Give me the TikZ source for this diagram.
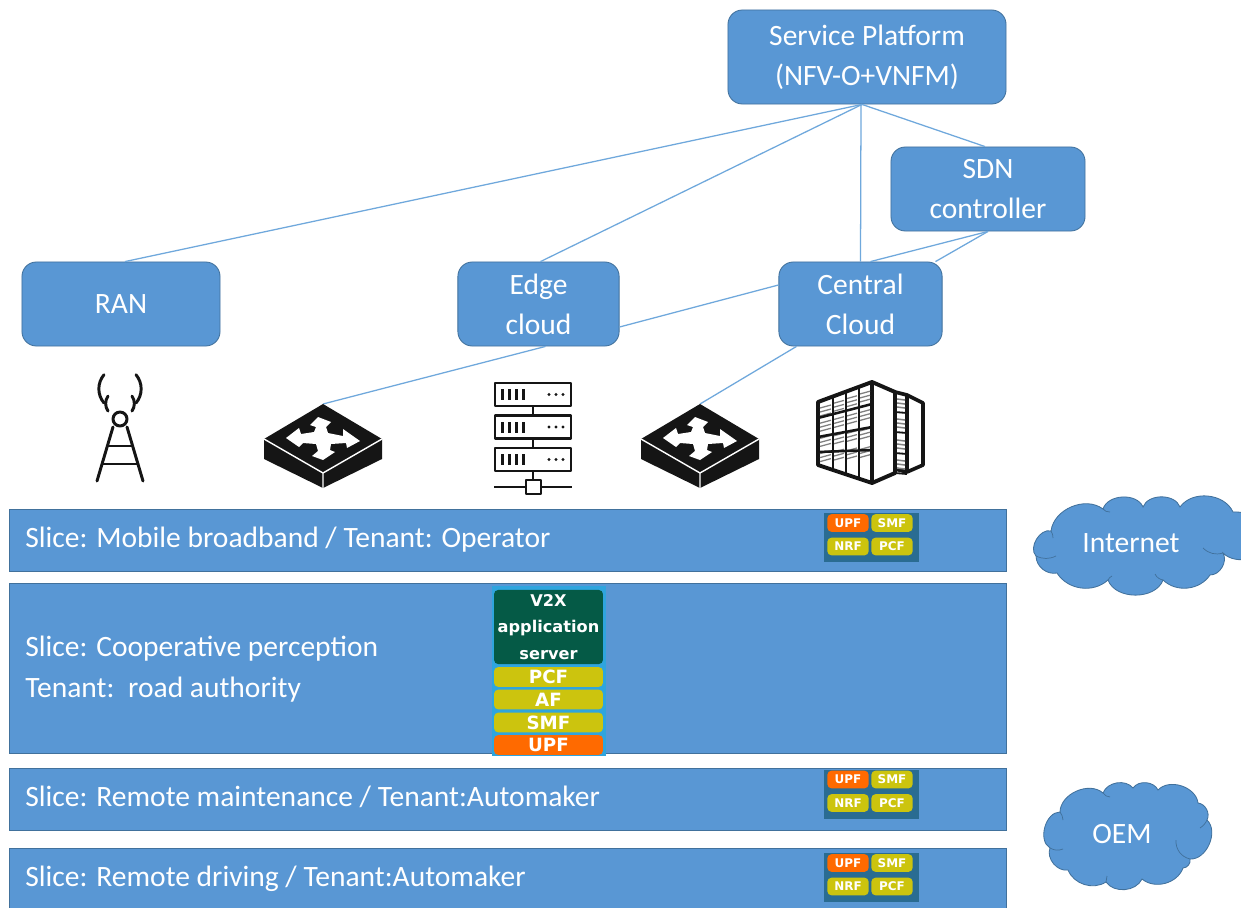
\documentclass[tikz,border=0pt]{standalone}
\usepackage{fontspec}
\setmainfont{Carlito}
\newfontfamily\boldlab{DejaVu Sans}[Scale=1]
\usetikzlibrary{calc}
\definecolor{blu}{HTML}{5997D4}
\definecolor{bluedge}{HTML}{41719C}
\definecolor{linkc}{HTML}{6FA8DC}
\definecolor{teal}{HTML}{2A6C92}
\definecolor{upfc}{HTML}{FF6A00}
\definecolor{olive}{HTML}{CCC40E}
\definecolor{gren}{HTML}{055A46}
\definecolor{sky}{HTML}{2FA5DE}
\definecolor{ink}{HTML}{151515}
\tikzset{
  maintext/.style={text=white,font=\fontsize{21}{28.5}\selectfont,align=center,inner sep=0pt},
  roundbox/.style={draw=bluedge,fill=blu,line width=0.6pt,rounded corners=0.36cm,maintext},
  bar/.style={draw=bluedge,fill=blu,line width=0.6pt,inner sep=0pt},
  barlabel/.style={text=white,font=\fontsize{21}{28.5}\selectfont,anchor=west,inner sep=0pt,align=left},
  link/.style={draw=linkc,line width=0.9pt},
  cloudshape/.style={draw=bluedge,fill=blu,line width=0.6pt},
  crease/.style={draw=bluedge,line width=0.5pt},
  mini/.style={rounded corners=0.1cm,text=white,inner sep=0pt,minimum width=1.03cm,minimum height=0.44cm,font=\boldlab\bfseries\fontsize{8.5}{8.5}\selectfont},
  stackitem/.style={rounded corners=0.1cm,text=white,inner sep=0pt,minimum width=2.72cm,minimum height=0.49cm,font=\boldlab\bfseries\fontsize{13}{13}\selectfont},
  icon/.style={draw=ink,line width=2.1pt,line join=round},
  thinicon/.style={draw=ink,line width=1.1pt},
  switchicon/.pic={
    \fill[ink] (0,-35) -- (59,0) -- (59,20) -- (0,49) -- (-59,20) -- (-59,0) -- cycle;
    \draw[white,line width=1pt] (-59,0) -- (0,34) -- (59,0) (0,34) -- (0,49);
    \fill[white] (-37,-1) -- (-24,-11) -- (-22,-5) -- (-9,-7) -- (-7,-12) -- (-13,-14) -- (-5,-22) -- (8,-17) -- (3,-12) -- (5,-6) -- (20,-3) -- (20,-10) -- (37,2) -- (24,9) -- (23,4) -- (8,5) -- (7,11) -- (12,13) -- (0,21) -- (-11,17) -- (-5,12) -- (-7,5) -- (-20,4) -- (-24,8) -- cycle;
  },
  minibadge/.pic={
    \fill[teal] (-47.5,-24.5) rectangle (47.5,24.5);
    \node[mini,fill=upfc] at (-23,-14.5) {UPF};
    \node[mini,fill=olive] at (21,-14.5) {SMF};
    \node[mini,fill=olive] at (-23,9) {NRF};
    \node[mini,fill=olive] at (21,9) {PCF};
  }
}
\begin{document}
\begin{tikzpicture}[x=0.025cm,y=-0.025cm]
\clip (0,0) rectangle (1241,907);
\fill[white] (0,0) rectangle (1241,907);

% named free ends
\coordinate (swa) at (323,404);
\coordinate (swb) at (700,404);

% boxes
\node[roundbox,minimum width=6.95cm,minimum height=2.35cm] (svc) at (867,57) {Service Platform\\(NFV-O+VNFM)};
\node[roundbox,minimum width=4.85cm,minimum height=2.1cm] (sdn) at (988,189) {SDN\\controller};
\node[roundbox,minimum width=4.95cm,minimum height=2.1cm] (ran) at (121,304) {RAN};
\node[roundbox,minimum width=4.03cm,minimum height=2.1cm] (edge) at (538.5,304) {Edge\\cloud};
\node[roundbox,minimum width=4.08cm,minimum height=2.1cm] (central) at (860.5,304) {Central\\Cloud};

% connectors
\begin{scope}[on background layer/.style={}]
\draw[link] (svc.south)+(-5,0) -- ($(ran.north)+(4,0)$);
\draw[link] (svc.south)+(-5,0) -- ($(edge.north)+(2,0)$);
\draw[link] (svc.south)+(-6,0) -- (central.north);
\draw[link] (svc.south)+(-5,0) -- ($(sdn.north)+(-3,0)$);
\draw[link] (sdn.south) -- ($(central.north)+(10,0)$);
\draw[link] (sdn.south) -- ($(central.north)+(75,0)$);
\draw[link] ($(edge.east)+(0,23)$) -- ($(central.west)+(0,-19)$);
\draw[link] ($(edge.south)+(7,0)$) -- (swa);
\draw[link] ($(central.south)+(-64,0)$) -- (swb);
\end{scope}

% icons: tower
\begin{scope}[line cap=round]
\draw[icon] (120,419) circle (7);
\draw[icon] (97,481) -- (113,427) (143,481) -- (127,427);
\draw[icon] (108,446) -- (132,446) (103,464) -- (137,464);
\draw[icon] (108,411) arc (145:215:13);
\draw[icon] (132,411) arc (35:-35:13);
\draw[icon] (104,403) arc (140:220:22);
\draw[icon] (136,403) arc (40:-40:22);
\end{scope}

% icons: switches
\pic at (323,439) {switchicon};
\pic at (700,439) {switchicon};

% icons: server stack
\foreach \yy in {383,415.5,448}{
  \draw[icon,fill=white] (495,\yy) rectangle (571,\yy+23);
  \foreach \xx in {502,509,516,523}{\fill[ink] (\xx-1.5,\yy+6) rectangle (\xx+1.5,\yy+17);}
  \foreach \xx in {549,556,563}{\fill[ink] (\xx,\yy+11.5) circle (1.6);}
}
\draw[icon] (533,406) -- (533,415.5) (533,438.5) -- (533,448) (533,471) -- (533,480);
\draw[icon] (494,487) -- (526,487) (541,487) -- (572,487);
\draw[icon,fill=white] (526,480) rectangle (541,494);

% icons: data centre
\draw[icon,line width=2.6pt,fill=white] (895,392) -- (907,395) -- (923,403) -- (923,465) -- (907,472) -- (895,469) -- cycle;
\draw[icon,line width=2.2pt] (907,395) -- (907,472);
\foreach \yy in {397,417,438,458}{
  \draw[thinicon,gray] (897,\yy+2) -- (905,\yy+3) (897,\yy+6) -- (905,\yy+7) (897,\yy+10) -- (905,\yy+11);
  \draw[ink,line width=1.3pt] (895,\yy+15) -- (907,\yy+16);
}
\draw[icon,line width=2.8pt,fill=white] (818,402) -- (872,382) -- (895,392) -- (895,473) -- (872,483) -- (818,465) -- cycle;
\draw[icon,line width=2.2pt] (872,382) -- (872,483);
\foreach \cc in {0,1,2,3}{
  \foreach \rr in {0,1,2,3}{
    \pgfmathsetmacro{\xa}{820+\cc*13}
    \pgfmathsetmacro{\xb}{\xa+11}
    \pgfmathsetmacro{\ya}{405-\cc*4.6+\rr*(15.2+\cc*1.1)}
    \foreach \kk in {3,7,11}{
      \draw[gray,line width=0.9pt] (\xa,\ya+\kk) -- (\xb,\ya+\kk-3);
    }
  }
}
\draw[ink,line width=1.3pt] (833,397) -- (833,470) (846,392) -- (846,475) (859,387) -- (859,479);
\draw[ink,line width=1.8pt] (818,418) -- (872,404) (818,437) -- (872,427) (818,452) -- (872,450);

% slices
\node[bar,minimum width=24.9cm,minimum height=1.55cm] (s1) at (508,540) {};
\node[bar,minimum width=24.9cm,minimum height=4.23cm] (s2) at (508,668.5) {};
\node[bar,minimum width=24.9cm,minimum height=1.55cm] (s3) at (508,799) {};
\node[bar,minimum width=24.9cm,minimum height=1.6cm] (s4) at (508,880) {};
\node[barlabel] (l1) at (25,540) {Slice: Mobile broadband / Tenant: Operator};
\node[barlabel] (l2) at (25,669) {Slice: Cooperative perception\\[1pt]Tenant:\, road authority};
\node[barlabel] (l3) at (25,797) {Slice: Remote maintenance / Tenant:Automaker};
\node[barlabel] (l4) at (25,879) {Slice: Remote driving / Tenant:Automaker};

% small function badges
\pic at (871,537.5) {minibadge};
\pic at (871,794) {minibadge};
\pic at (871,877.5) {minibadge};

% V2X stack
\fill[sky] (492,586) rectangle (606,756);
\node[stackitem,fill=gren,minimum height=1.85cm,align=center,font=\boldlab\bfseries\fontsize{11.5}{19}\selectfont] (v2x) at (548.5,627) {V2X\\application\\server};
\node[stackitem,fill=olive] (spcf) at (548.5,677) {PCF};
\node[stackitem,fill=olive] (saf) at (548.5,699.5) {AF};
\node[stackitem,fill=olive] (ssmf) at (548.5,722.5) {SMF};
\node[stackitem,fill=upfc] (supf) at (548.5,745) {UPF};

% clouds
\draw[cloudshape] (1036,556) to[bend left=75] (1051,531) to[bend left=60] (1103,509) to[bend left=70] (1143,507) to[bend left=70] (1180,507) to[bend left=60] (1233,512) to[bend left=40] (1270,540) to[bend left=60] (1223,553) to[bend left=60] (1210,575) to[bend left=50] (1163,580) to[bend left=70] (1108,580) to[bend left=50] (1057,573) to[bend left=50] cycle;
\draw[crease] (1051,531) to[bend left=15] (1053,538) (1036,556) to[bend right=25] (1056,556) (1103,509) to[bend right=25] (1110,512) (1223,553) to[bend left=30] (1203,548) (1163,580) to[bend left=25] (1155,574) (1108,580) to[bend left=20] (1112,576);
\node[maintext] (inet) at (1131,543) {Internet};

\draw[cloudshape] (1050,848) to[bend left=75] (1060,812) to[bend left=65] (1103,793) to[bend left=60] (1133,788) to[bend left=60] (1158,790) to[bend left=65] (1198,803) to[bend left=55] (1207,820) to[bend left=70] (1190,859) to[bend left=50] (1183,868) to[bend left=55] (1142,879) to[bend left=60] (1106,882) to[bend left=50] (1068,870) to[bend left=60] cycle;
\draw[crease] (1060,812) to[bend left=15] (1063,820) (1050,848) to[bend right=25] (1063,849) (1103,793) to[bend right=25] (1110,797) (1190,859) to[bend left=40] (1176,840) (1207,820) to[bend left=15] (1200,828) (1106,882) to[bend left=15] (1107,876);
\node[maintext] (oem) at (1122,834) {OEM};
\end{tikzpicture}
\end{document}
